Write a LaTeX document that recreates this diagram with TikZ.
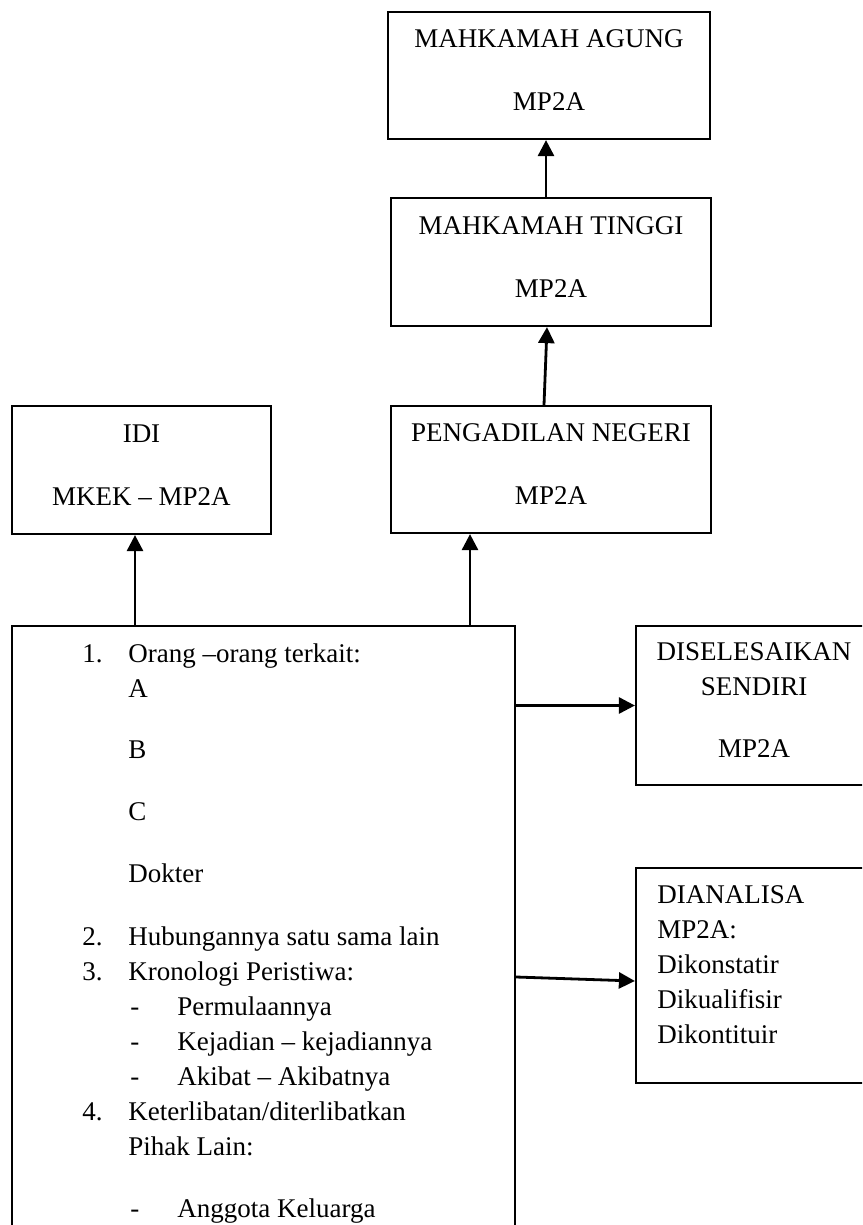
\documentclass[tikz,border=0pt]{standalone}
\usepackage{fontspec}
\setmainfont{Liberation Serif}
\usetikzlibrary{arrows.meta, positioning}
\newcommand{\bodyfont}{\fontsize{13.5}{17.5}\selectfont}

\begin{document}
\begin{tikzpicture}[x=0.5pt, y=-0.5pt,
    box/.style={draw, line width=1.1pt, inner sep=0pt, align=center, font=\bodyfont},
    txt/.style={inner sep=0pt, anchor=base west, font=\bodyfont},
    arr/.style={-{Triangle[length=8pt, width=8pt]}, line width=1.4pt}]
  \useasboundingbox (0,0) rectangle (862,1225);
  \clip (0,0) rectangle (862,1225);
  % courts and boards
  \node[box, minimum width=161pt, minimum height=63.5pt] (agung) at (549,75.5)
    {MAHKAMAH AGUNG\\[14pt]MP2A\strut};
  \node[box, minimum width=160pt, minimum height=64pt] (tinggi) at (551,262)
    {MAHKAMAH TINGGI\\[14pt]MP2A\strut};
  \node[box, minimum width=160pt, minimum height=63.5pt] (negeri) at (551,469.5)
    {PENGADILAN NEGERI\\[14pt]MP2A\strut};
  \node[box, minimum width=129.5pt, minimum height=64pt] (idi) at (141.5,470)
    {IDI\\[14pt]MKEK – MP2A\strut};
  % case box
  \node[box, minimum width=251.5pt, minimum height=317pt] (kasus) at (263.5,943) {};
  \foreach \yy/\xx/\txt [count=\i] in {662/82/1., 662/128/{Orang –orang terkait:},
      697/128/A, 758/128/B, 820/128/C, 882/128/Dokter,
      945/82/2., 945/128/{Hubungannya satu sama lain},
      980/82/3., 980/128/{Kronologi Peristiwa:},
      1015/130/-, 1015/177/Permulaannya,
      1050/130/-, 1050/177/{Kejadian – kejadiannya},
      1085/130/-, 1085/177/{Akibat – Akibatnya},
      1120/82/4., 1120/128/{Keterlibatan/diterlibatkan},
      1155/128/{Pihak Lain:},
      1217/130/-, 1217/177/{Anggota Keluarga}}
    \node[txt] (list\i) at (\xx,\yy) {\txt};
  % outcomes
  \node[box, minimum width=118pt, minimum height=79.5pt] (sendiri) at (754,705.5)
    {DISELESAIKAN\\SENDIRI\\[13.5pt]MP2A\strut};
  \node[box, minimum width=122pt, minimum height=107.5pt] (analisa) at (758,975.5) {};
  \node[txt, anchor=north west, align=left] (analisa-t) at (657,885)
    {DIANALISA\\MP2A:\\Dikonstatir\\Dikualifisir\\Dikontituir};
  % arrows
  \draw[arr] ([xshift=-2.5pt]tinggi.north) -- ([xshift=-1.5pt]agung.south);
  \draw[arr] ([xshift=-3.5pt]negeri.north) -- ([xshift=-2pt]tinggi.south);
  \draw[arr] ([xshift=-64.25pt]kasus.north) -- ([xshift=-3.25pt]idi.south);
  \draw[arr] ([xshift=103.25pt]kasus.north) -- ([xshift=-40.5pt]negeri.south);
  \draw[arr] (kasus.east |- sendiri.west) -- (sendiri.west);
  \draw[arr] ([yshift=-17pt]kasus.east) -- ([yshift=-2.75pt]analisa.west);
\end{tikzpicture}
\end{document}
